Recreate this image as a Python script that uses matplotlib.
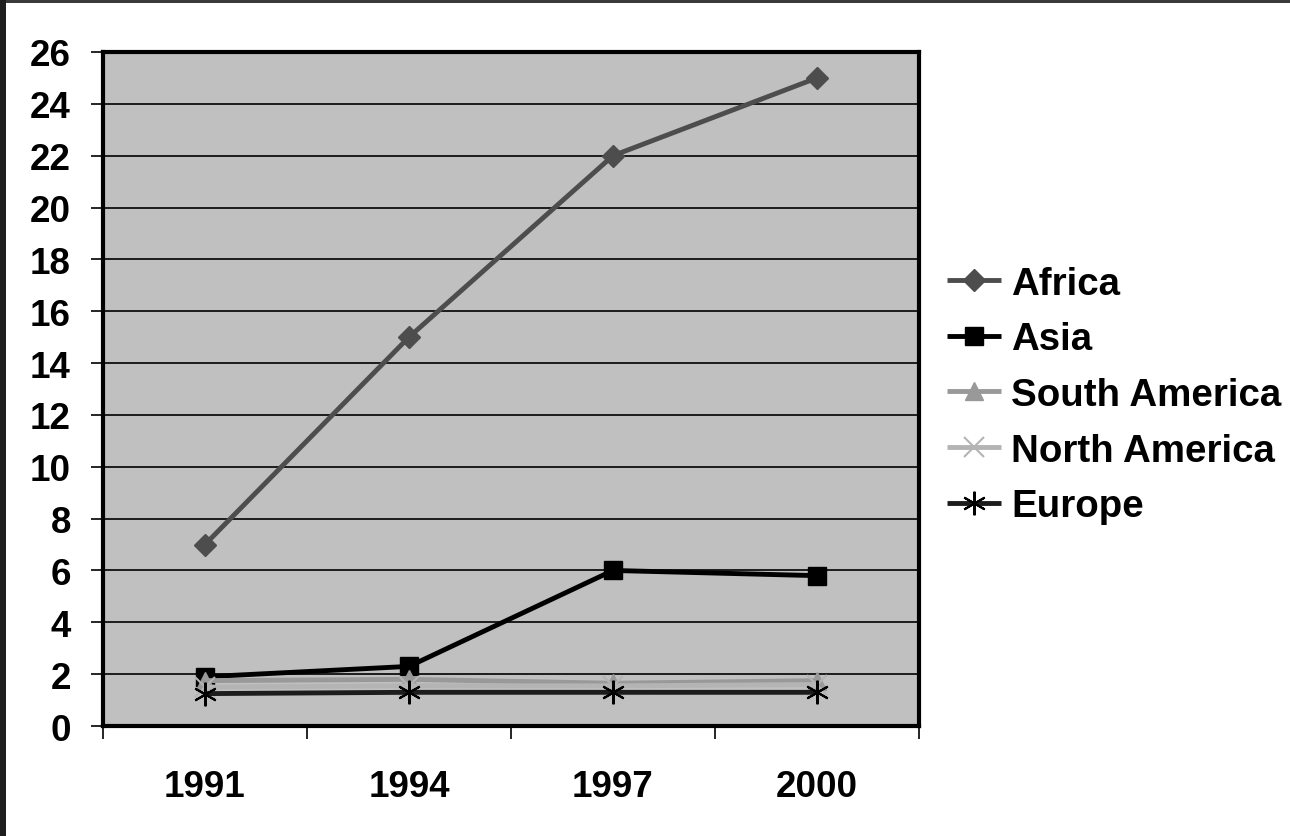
import matplotlib
matplotlib.use("Agg")
import matplotlib.pyplot as plt
from matplotlib.patches import Rectangle
from matplotlib.ticker import FixedLocator, NullFormatter

years = ["1991", "1994", "1997", "2000"]
africa = [7.0, 15.0, 22.0, 25.0]
asia = [1.9, 2.3, 6.0, 5.8]
south_america = [1.75, 1.8, 1.65, 1.75]
north_america = [1.5, 1.55, 1.55, 1.6]
europe = [1.25, 1.3, 1.3, 1.3]
y_ticks = list(range(0, 27, 2))

plt.rcParams["font.family"] = ["Liberation Sans", "DejaVu Sans"]
plt.rcParams["font.weight"] = "bold"

fig = plt.figure(figsize=(12.9, 8.37), dpi=100, facecolor="white")
ax = fig.add_axes([0.0798, 0.1314, 0.6326, 0.8053])
ax.set_facecolor("#c0c0c0")

x = list(range(len(years)))
series = [
    (africa, "Africa", "#4d4d4d", dict(marker="D", ms=11.5, mfc="#4d4d4d", mec="#4d4d4d")),
    (asia, "Asia", "#000000", dict(marker="s", ms=13, mfc="#000000", mec="#000000")),
    (south_america, "South America", "#999999", dict(marker="^", ms=13, mfc="#999999", mec="#999999")),
    (north_america, "North America", "#b4b4b4", dict(marker="x", ms=15, mew=1.5, mec="#b4b4b4")),
    (europe, "Europe", "#1c1c1c", dict(marker=(6, 2, 0), ms=17, mew=1.5, mec="#000000")),
]
for vals, name, col, mk in series:
    ax.plot(x, vals, color=col, lw=3.5, label=name, solid_capstyle="butt", **mk)

ax.set_xlim(-0.5, 3.5)
ax.set_ylim(0, 26)
ax.set_yticks(y_ticks)
ax.set_yticklabels([str(t) for t in y_ticks])
ax.yaxis.grid(True, color="black", lw=1.2)
ax.set_axisbelow(True)

# category boundaries get the tick marks, centres get the labels
ax.xaxis.set_major_locator(FixedLocator([i - 0.5 for i in range(len(years) + 1)]))
ax.xaxis.set_major_formatter(NullFormatter())
ax.xaxis.set_minor_locator(FixedLocator(x))
ax.set_xticklabels(years, minor=True)
ax.tick_params(axis="x", which="major", direction="out", length=9, width=1.2, color="black")
ax.tick_params(axis="x", which="minor", length=0, pad=31, labelsize=26.5)
ax.tick_params(axis="y", direction="out", length=9, width=1.2, pad=14, labelsize=26.5)

for s in ax.spines.values():
    s.set_linewidth(3)
    s.set_color("black")

leg = fig.legend(loc="center left", bbox_to_anchor=(0.734, 0.527), frameon=False,
                 fontsize=27.7, handlelength=1.4, handletextpad=0.28, labelspacing=0.51,
                 borderpad=0, borderaxespad=0)

# dark frame along the top and left edges
fig.patches.append(Rectangle((0, 1 - 4 / 837), 1, 4 / 837, transform=fig.transFigure,
                             facecolor="#3a3a3a", edgecolor="none", zorder=10))
fig.patches.append(Rectangle((0, 0), 6 / 1290, 1, transform=fig.transFigure,
                             facecolor="#1e1e1e", edgecolor="none", zorder=10))

fig.savefig("out.png", dpi=100, facecolor="white")
